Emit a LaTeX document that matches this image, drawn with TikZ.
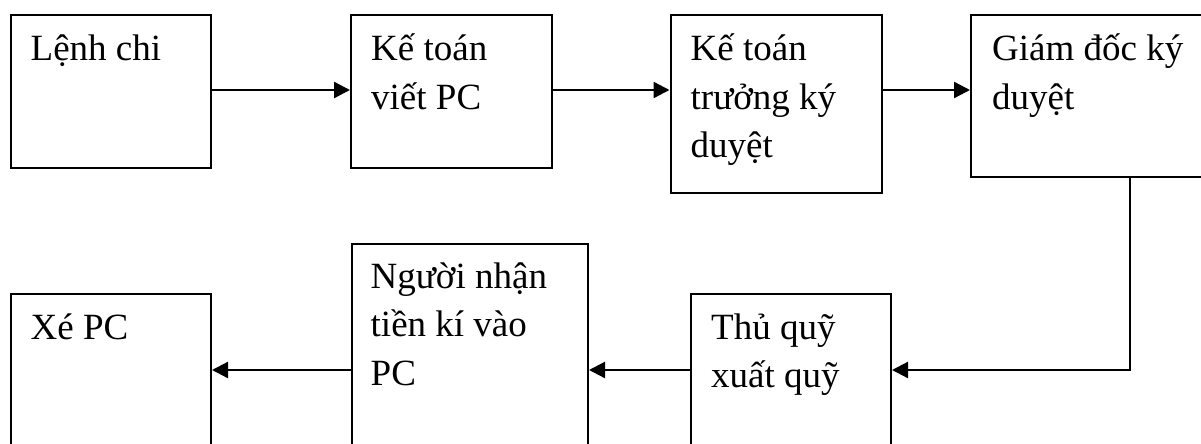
\documentclass[tikz,border=0pt]{standalone}
\usepackage{fontspec}
\setmainfont{Liberation Serif}
\usetikzlibrary{arrows.meta}
\tikzset{
  stepbox/.style={draw=black, line width=2pt, rectangle, inner sep=0pt, anchor=north west},
  steptext/.style={inner sep=0pt, anchor=base west, font=\fontsize{37}{48.5}\selectfont},
  flow/.style={line width=2.3pt, -{Triangle[length=16pt,width=16pt]}}
}
\newcommand{\boxtext}[1]{\parbox[t]{260pt}{\raggedright #1}}
\begin{document}
\begin{tikzpicture}[x=1pt, y=-1pt]
\useasboundingbox (0,0) rectangle (1201,444);
\clip (0,0) rectangle (1201,444);

% upper row of steps
\node[stepbox, minimum width=200.5pt, minimum height=153pt] (b1) at (9.5,14) {};
\node[stepbox, minimum width=200.5pt, minimum height=153pt] (b2) at (350,14) {};
\node[stepbox, minimum width=211.5pt, minimum height=178pt] (b3) at (669.5,14) {};
\node[stepbox, minimum width=260pt, minimum height=162pt] (b4) at (970,14) {};

% lower row of steps (running past the bottom edge)
\node[stepbox, minimum width=200pt, minimum height=190pt] (b5) at (690,293) {};
\node[stepbox, minimum width=236.5pt, minimum height=240pt] (b6) at (350.5,243) {};
\node[stepbox, minimum width=200.5pt, minimum height=190pt] (b7) at (9.5,293) {};

% labels
\node[steptext] (t1) at ([shift={(21,46.5)}]b1.north west) {\boxtext{Lệnh chi}};
\node[steptext] (t2) at ([shift={(21,46.5)}]b2.north west) {\boxtext{Kế toán\\viết PC}};
\node[steptext] (t3) at ([shift={(21,46.5)}]b3.north west) {\boxtext{Kế toán\\trưởng ký\\duyệt}};
\node[steptext] (t4) at ([shift={(22,46.5)}]b4.north west) {\boxtext{Giám đốc ký\\duyệt}};
\node[steptext] (t5) at ([shift={(21,46)}]b5.north west) {\boxtext{Thủ quỹ\\xuất quỹ}};
\node[steptext] (t6) at ([shift={(20,45)}]b6.north west) {\boxtext{Người nhận\\tiền kí vào\\PC}};
\node[steptext] (t7) at ([shift={(21,46)}]b7.north west) {\boxtext{Xé PC}};

% connectors
\coordinate (top) at (0,90);
\coordinate (turn) at (1130,370);
\draw[flow] (b1.east |- top) -- (b2.west |- top);
\draw[flow] (b2.east |- top) -- (b3.west |- top);
\draw[flow] (b3.east |- top) -- (b4.west |- top);
\draw[flow] (b4.south -| turn) -- (turn) -- (b5.east |- turn);
\draw[flow] (b5.west |- turn) -- (b6.east |- turn);
\draw[flow] (b6.west |- turn) -- (b7.east |- turn);
\end{tikzpicture}
\end{document}
